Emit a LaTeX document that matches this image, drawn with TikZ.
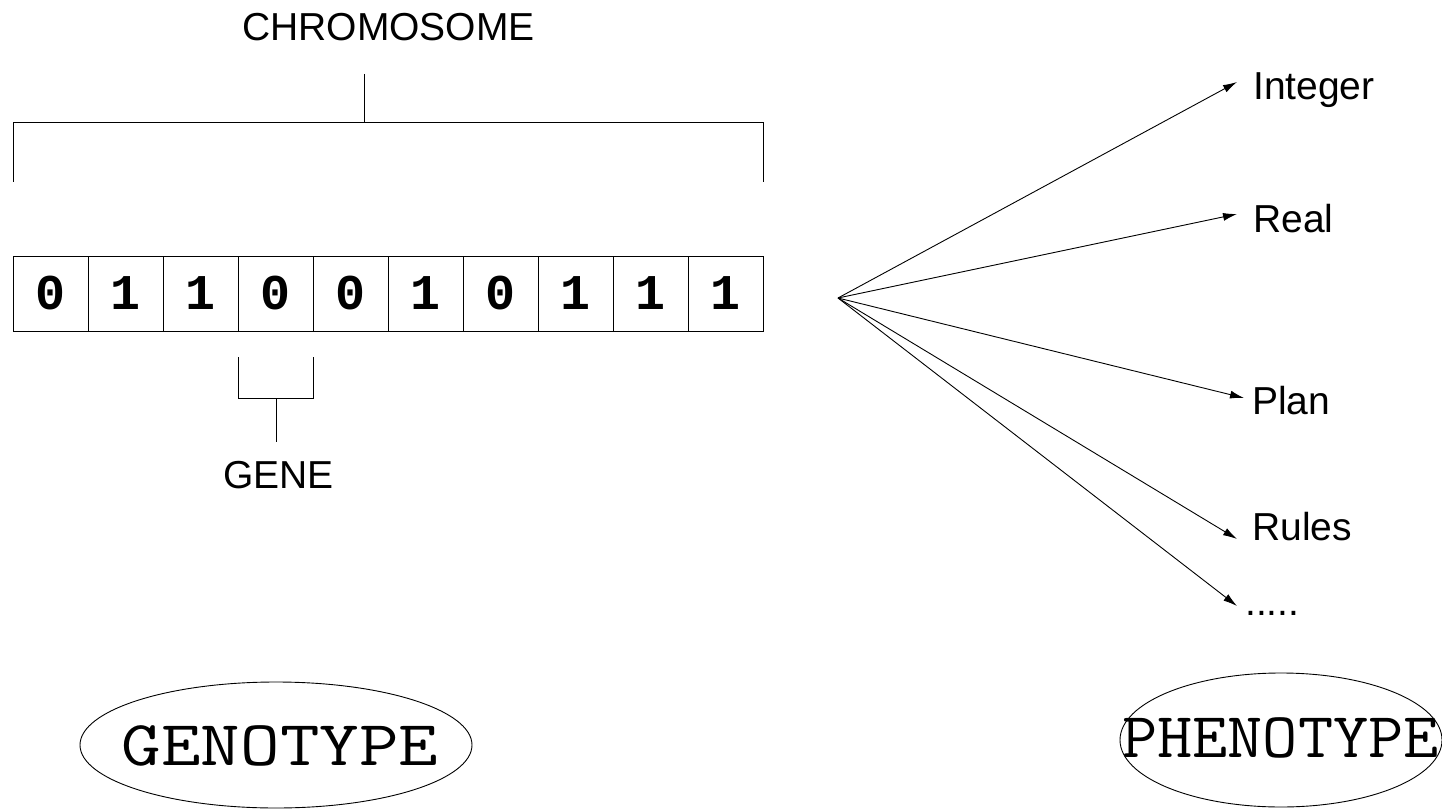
\documentclass[tikz,border=0pt]{standalone}
\usepackage{fontspec}
\setmainfont{Liberation Sans}
\newfontfamily\bitfont{Liberation Mono}
\usetikzlibrary{arrows.meta}
\tikzset{
  line/.style={draw=black, line width=0.9pt},
  arr/.style={line, -{Latex[length=14pt,width=8pt]}},
  cell/.style={draw=black, line width=0.9pt, minimum width=75pt, minimum height=75pt, inner sep=0pt,
    font=\bitfont\bfseries\fontsize{50}{50}\selectfont},
  lab/.style={inner sep=0pt, font=\fontsize{39}{39}\selectfont},
  big/.style={inner sep=0pt, font=\ttfamily\fontsize{64}{64}\selectfont},
}
\begin{document}
\begin{tikzpicture}[x=1pt,y=-1pt]
\useasboundingbox (0,0) rectangle (1442,810);
\clip (0,0) rectangle (1442,810);
% chromosome cells
\foreach \b [count=\i from 0] in {0,1,1,0,0,1,0,1,1,1} {
  \node[cell] (c\i) at ({50.5+75*\i},293.5) {\b};
}
% chromosome bracket
\node[lab, anchor=base] (chrom) at (388.5,41) {CHROMOSOME};
\coordinate (cs) at (364,74);
\coordinate (cm) at (364,122);
\coordinate (cl) at (13,122);
\coordinate (cr) at (763,122);
\coordinate (cld) at (13,182);
\coordinate (crd) at (763,182);
\draw[line] (cs) -- (cm);
\draw[line] (cld) -- (cl) -- (cr) -- (crd);
% gene bracket
\coordinate (gl) at (238,357);
\coordinate (gr) at (313,357);
\coordinate (gld) at (238,398);
\coordinate (grd) at (313,398);
\coordinate (gm) at (276,398);
\coordinate (gs) at (276,442);
\draw[line] (gl) -- (gld) -- (grd) -- (gr);
\draw[line] (gm) -- (gs);
\node[lab, anchor=base] (gene) at (278.5,488) {GENE};
% phenotype arrows
\coordinate (o) at (838,298);
\coordinate (tInt) at (1237,82);
\coordinate (tReal) at (1237,214);
\coordinate (tPlan) at (1244,398);
\coordinate (tRules) at (1237,539);
\coordinate (tDots) at (1237,606);
\node[lab, anchor=base west] (int) at (1253,100) {Integer};
\node[lab, anchor=base west] (real) at (1253,233) {Real};
\node[lab, anchor=base west] (plan) at (1252,414) {Plan};
\node[lab, anchor=base west] (rules) at (1252,540) {Rules};
\node[lab, anchor=base west] (dots) at (1245,615) {.....};
\draw[arr] (o) -- (tInt);
\draw[arr] (o) -- (tReal);
\draw[arr] (o) -- (tPlan);
\draw[arr] (o) -- (tRules);
\draw[arr] (o) -- (tDots);
% ellipses
\node[big] (geno) at (280,746) {\scalebox{1.2}[1]{GENOTYPE}};
\draw[line] (276,745) ellipse [x radius=196, y radius=63];
\node[big] (pheno) at (1280.5,738) {\scalebox{1.068}[1]{PHENOTYPE}};
\draw[line] (1281,740) ellipse [x radius=161, y radius=67];
\end{tikzpicture}
\end{document}
